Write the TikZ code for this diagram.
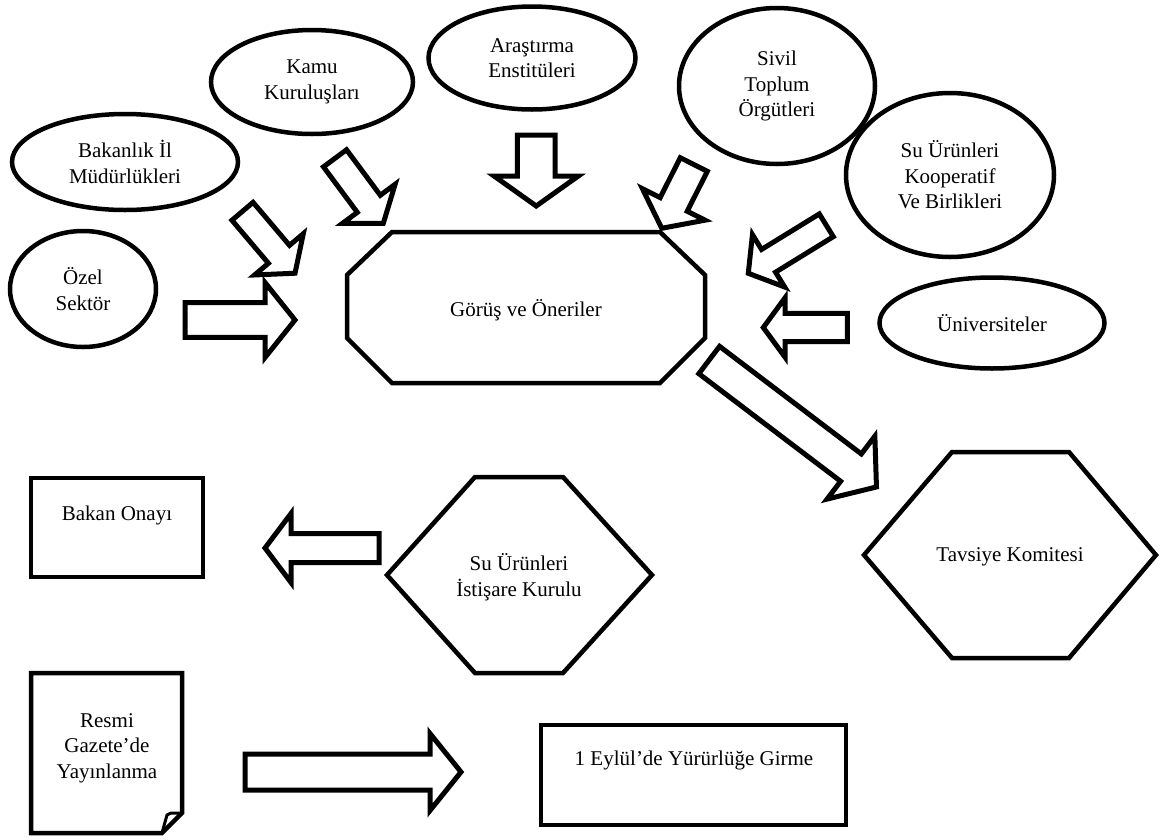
\documentclass[tikz,border=0pt]{standalone}
\usepackage{fontspec}
\setmainfont{Liberation Serif}
\usetikzlibrary{shapes.geometric}
\begin{document}
\begin{tikzpicture}[x=1pt,y=-1pt,
  txt/.style={font=\fontsize{21}{25.5}\selectfont, align=center, inner sep=0pt},
  oval/.style={txt, ellipse, draw, line width=4.5pt},
  ln/.style={draw, line width=4.5pt, line join=miter},
  arrowline/.style={draw, line width=5pt, fill=white, line join=miter, miter limit=10},
  pics/barrow/.style n args={4}{code={
    \draw[arrowline] (0,-#2/2) -- (#1-#4,-#2/2) -- (#1-#4,-#3/2) -- (#1,0)
      -- (#1-#4,#3/2) -- (#1-#4,#2/2) -- (0,#2/2) -- cycle;}}
]
\useasboundingbox[fill=white] (0,0) rectangle (1163,839);

% ---- source ellipses ----
\node[oval, minimum width=226, minimum height=96] (bakanlik) at (125,162) {Bakanlık İl\\Müdürlükleri};
\node[oval, minimum width=202, minimum height=104] (kamu) at (312,82) {Kamu\\Kuruluşları};
\node[oval, minimum width=207, minimum height=103] (arastirma) at (532,58) {Araştırma\\Enstitüleri};
\node[oval, minimum width=146, minimum height=116] (ozel) at (83,289) {Özel\\Sektör};
\node[oval, minimum width=196, minimum height=156] (sivil) at (777,86) {Sivil\\Toplum\\Örgütleri};
\node[oval, minimum width=208, minimum height=164] (koop) at (950,175) {Su Ürünleri\\Kooperatif\\Ve Birlikleri};
\node[oval, minimum width=225, minimum height=91] (univ) at (992,323) {Üniversiteler};

% ---- central octagon ----
\draw[ln] (392,232) -- (660,232) -- (705,275) -- (705,338) -- (660,383)
  -- (392,383) -- (347,338) -- (347,275) -- cycle;
\node[txt] (gorus) at (526,310) {Görüş ve Öneriler};

% ---- hexagons ----
\draw[ln] (387,575) -- (475,477) -- (563,477) -- (652,575) -- (563,673) -- (475,673) -- cycle;
\node[txt] (istisare) at (519,577) {Su Ürünleri\\İstişare Kurulu};
\draw[ln] (864,555) -- (952,452) -- (1069,452) -- (1156,555) -- (1069,658) -- (952,658) -- cycle;
\node[txt] (tavsiye) at (1010,557) {Tavsiye Komitesi};

% ---- rectangles ----
\draw[ln] (31,478) rectangle (203,577);
\node[txt] (bakan) at (117,515) {Bakan Onayı};
\draw[ln] (541,725) rectangle (846,825);
\node[txt] (eylul) at (694,760) {1 Eylül’de Yürürlüğe Girme};

% ---- document shape ----
\draw[ln] (31,673) -- (182,673) -- (182,813) -- (162,833) -- (31,833) -- cycle;
\draw[line width=3pt, line join=miter] (162,833) -- (167,815) -- (171,813) -- (182,813);
\node[txt] (resmi) at (107,748) {Resmi\\Gazete’de\\Yayınlanma};

% ---- block arrows ----
\pic[rotate=-49.7] at (242.5,211.3) {barrow={81.2}{27.7}{63.8}{24.8}};
\pic[rotate=-53.4] at (335,158.3) {barrow={81}{28.7}{65.6}{24.3}};
\pic[rotate=-90] at (536.2,135) {barrow={71}{37.7}{84.3}{30}};
\pic[rotate=-116.7] at (693.8,164.5) {barrow={71.4}{30.3}{70.1}{26.7}};
\pic[rotate=-148.4] at (826.3,225.3) {barrow={91.6}{26.7}{61.5}{23.8}};
\pic[rotate=180] at (847.3,327.5) {barrow={84}{28.4}{59.3}{21.7}};
\pic at (185,320) {barrow={110}{34.7}{75}{30}};
\pic[rotate=-37.2] at (709.2,360) {barrow={210}{34.3}{79}{32}};
\pic[rotate=180] at (379,548) {barrow={114}{29}{69}{26}};
\pic at (245,772) {barrow={216}{36}{77}{31}};
\end{tikzpicture}
\end{document}
